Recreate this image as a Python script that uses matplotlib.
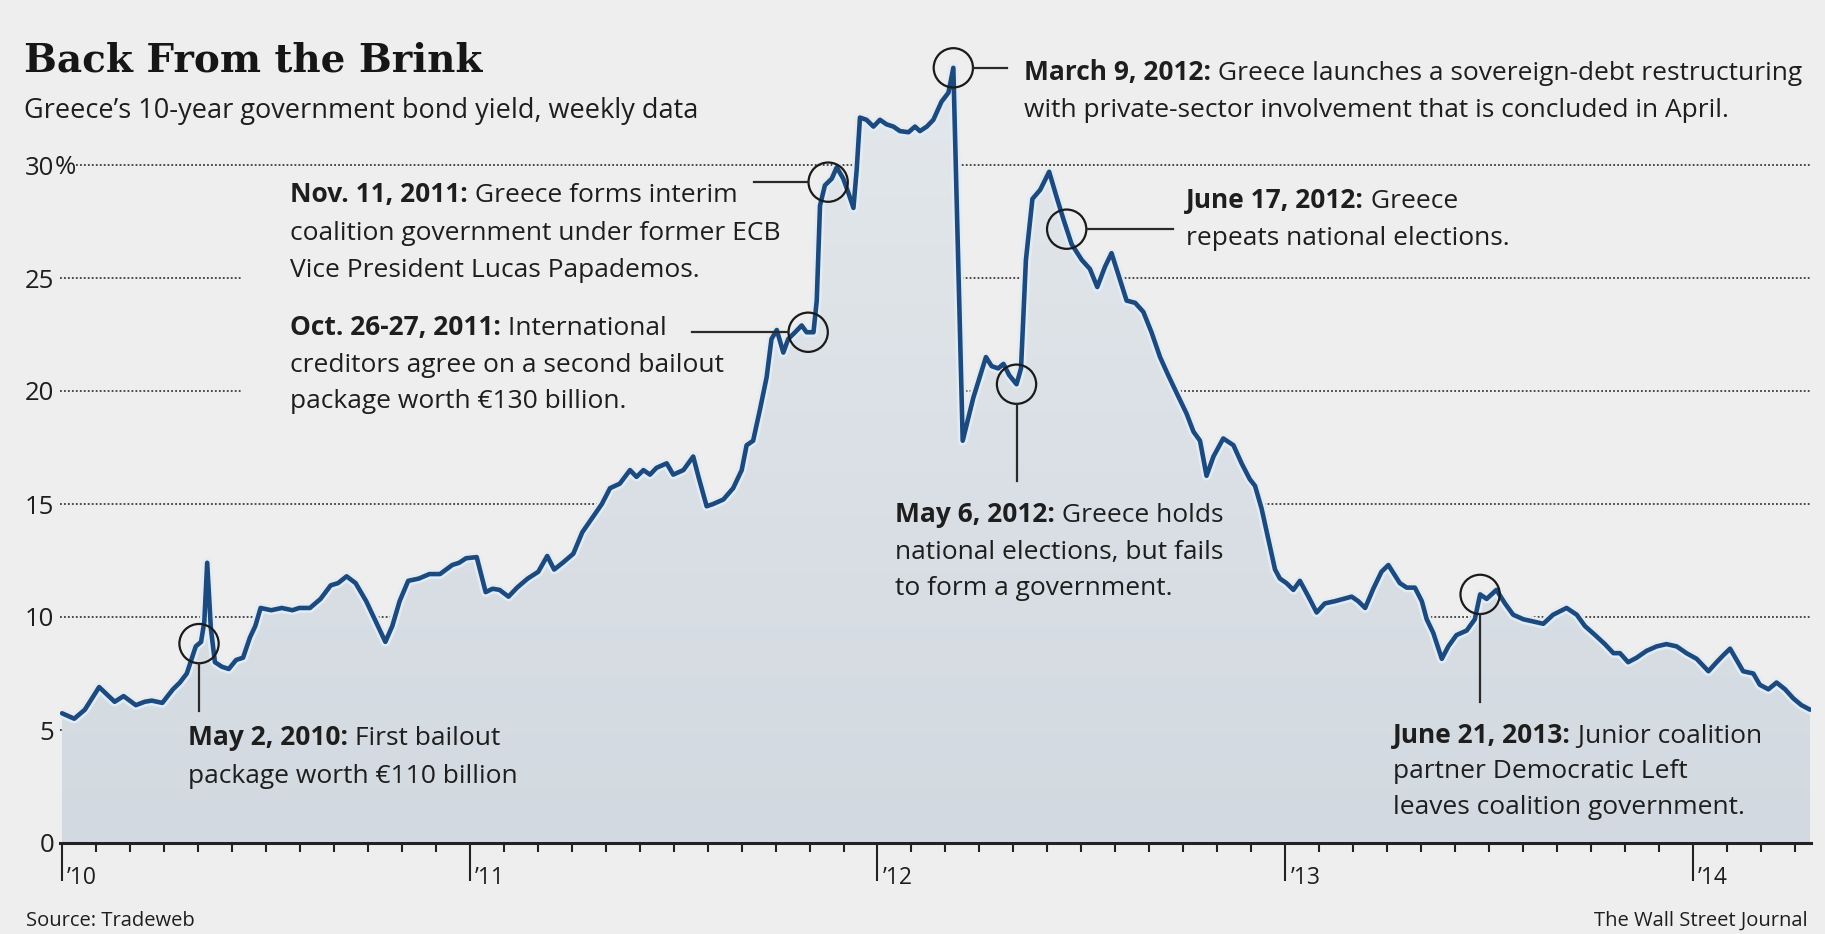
import numpy as np
import matplotlib
matplotlib.use("Agg")
import matplotlib.pyplot as plt
import matplotlib.patheffects as pe
from matplotlib.patches import Polygon, Rectangle
from matplotlib.lines import Line2D
from matplotlib.colors import LinearSegmentedColormap

# ---------------------------------------------------------------------------
# Greece's 10-year government bond yield, weekly (decimal year, percent)
# ---------------------------------------------------------------------------
years = [
    2010.000, 2010.030, 2010.056, 2010.091, 2010.129, 2010.151, 2010.181, 2010.203,
    2010.220, 2010.246, 2010.272, 2010.289, 2010.306, 2010.319, 2010.328, 2010.341,
    2010.349, 2010.356, 2010.365, 2010.375, 2010.392, 2010.409, 2010.427, 2010.444,
    2010.461, 2010.474, 2010.487, 2010.513, 2010.539, 2010.565, 2010.582, 2010.608,
    2010.634, 2010.659, 2010.677, 2010.698, 2010.720, 2010.746, 2010.767, 2010.793,
    2010.810, 2010.828, 2010.849, 2010.875, 2010.901, 2010.927, 2010.957, 2010.974,
    2010.991, 2011.017, 2011.039, 2011.056, 2011.073, 2011.095, 2011.116, 2011.142,
    2011.168, 2011.190, 2011.207, 2011.228, 2011.254, 2011.276, 2011.324, 2011.344,
    2011.368, 2011.393, 2011.409, 2011.426, 2011.442, 2011.458, 2011.483, 2011.499,
    2011.524, 2011.548, 2011.561, 2011.581, 2011.597, 2011.622, 2011.646, 2011.667,
    2011.679, 2011.695, 2011.712, 2011.728, 2011.740, 2011.753, 2011.769, 2011.781,
    2011.798, 2011.814, 2011.826, 2011.843, 2011.851, 2011.859, 2011.871, 2011.888,
    2011.900, 2011.916, 2011.928, 2011.941, 2011.949, 2011.957, 2011.973, 2011.990,
    2012.006, 2012.022, 2012.039, 2012.055, 2012.076, 2012.092, 2012.104, 2012.121,
    2012.137, 2012.157, 2012.174, 2012.186, 2012.209, 2012.235, 2012.266, 2012.280,
    2012.296, 2012.309, 2012.323, 2012.341, 2012.352, 2012.364, 2012.380, 2012.399,
    2012.421, 2012.439, 2012.456, 2012.476, 2012.501, 2012.521, 2012.539, 2012.558,
    2012.574, 2012.595, 2012.611, 2012.632, 2012.652, 2012.672, 2012.693, 2012.713,
    2012.734, 2012.758, 2012.775, 2012.791, 2012.807, 2012.824, 2012.848, 2012.873,
    2012.893, 2012.913, 2012.926, 2012.942, 2012.958, 2012.975, 2012.987, 2013.003,
    2013.020, 2013.036, 2013.057, 2013.077, 2013.097, 2013.122, 2013.142, 2013.163,
    2013.179, 2013.196, 2013.216, 2013.236, 2013.253, 2013.281, 2013.298, 2013.318,
    2013.335, 2013.347, 2013.363, 2013.384, 2013.400, 2013.420, 2013.445, 2013.465,
    2013.478, 2013.494, 2013.518, 2013.539, 2013.559, 2013.584, 2013.608, 2013.633,
    2013.657, 2013.690, 2013.715, 2013.735, 2013.760, 2013.784, 2013.805, 2013.821,
    2013.841, 2013.862, 2013.886, 2013.911, 2013.935, 2013.960, 2013.984, 2014.009,
    2014.038, 2014.058, 2014.074, 2014.091, 2014.107, 2014.123, 2014.148, 2014.164,
    2014.185, 2014.205, 2014.226, 2014.246, 2014.266, 2014.287,
]
yields = [
    5.74, 5.50, 5.90, 6.90, 6.25, 6.50, 6.10, 6.25,
    6.30, 6.20, 6.80, 7.10, 7.50, 8.20, 8.70, 8.90,
    9.80, 12.40, 9.50, 8.00, 7.80, 7.70, 8.10, 8.20,
    9.10, 9.60, 10.40, 10.30, 10.40, 10.30, 10.40, 10.40,
    10.80, 11.40, 11.50, 11.80, 11.50, 10.70, 9.90, 8.90,
    9.60, 10.70, 11.60, 11.70, 11.90, 11.90, 12.30, 12.40,
    12.60, 12.65, 11.10, 11.25, 11.20, 10.90, 11.30, 11.70,
    12.00, 12.70, 12.10, 12.40, 12.80, 13.75, 15.00, 15.70,
    15.90, 16.50, 16.20, 16.50, 16.30, 16.60, 16.80, 16.30,
    16.50, 17.10, 16.20, 14.90, 15.00, 15.20, 15.70, 16.50,
    17.60, 17.80, 19.20, 20.60, 22.30, 22.70, 21.70, 22.30,
    22.60, 22.90, 22.60, 22.60, 24.00, 28.20, 29.10, 29.40,
    29.90, 29.40, 28.80, 28.10, 29.80, 32.10, 32.00, 31.70,
    32.00, 31.80, 31.70, 31.50, 31.45, 31.70, 31.50, 31.70,
    32.00, 32.80, 33.20, 34.30, 17.80, 19.70, 21.50, 21.10,
    21.00, 21.20, 20.70, 20.30, 21.00, 25.80, 28.50, 28.90,
    29.70, 28.60, 27.60, 26.50, 25.80, 25.40, 24.60, 25.50,
    26.10, 24.90, 24.00, 23.90, 23.50, 22.60, 21.50, 20.70,
    19.90, 19.00, 18.20, 17.80, 16.25, 17.10, 17.90, 17.60,
    16.80, 16.10, 15.80, 14.80, 13.50, 12.10, 11.70, 11.50,
    11.20, 11.60, 10.90, 10.20, 10.60, 10.70, 10.80, 10.90,
    10.70, 10.40, 11.25, 12.00, 12.30, 11.50, 11.30, 11.30,
    10.70, 9.90, 9.30, 8.15, 8.70, 9.20, 9.40, 9.90,
    11.00, 10.80, 11.20, 10.60, 10.10, 9.90, 9.80, 9.70,
    10.10, 10.40, 10.10, 9.60, 9.20, 8.80, 8.40, 8.40,
    8.00, 8.20, 8.50, 8.70, 8.80, 8.70, 8.40, 8.15,
    7.60, 8.00, 8.30, 8.60, 8.10, 7.60, 7.50, 7.00,
    6.80, 7.10, 6.80, 6.40, 6.10, 5.90,
]

y_ticks = [0, 5, 10, 15, 20, 25, 30]
y_tick_labels = ["0", "5", "10", "15", "20", "25", "30"]
year_ticks = [2010, 2011, 2012, 2013, 2014]
year_labels = ["\u201910", "\u201911", "\u201912", "\u201913", "\u201914"]

# Dates of the marked events (decimal year)
event_dates = [2010.336, 2011.830, 2011.879, 2012.186, 2012.341, 2012.464, 2013.478]

# ---------------------------------------------------------------------------
# Styling
# ---------------------------------------------------------------------------
W, H = 1825, 934
BG = "#eeeeee"
INK = "#1e1e1e"
LINE = "#1d4a7e"
SANS = ["Open Sans", "DejaVu Sans"]
SERIF = ["DejaVu Serif"]
NOTE_SIZE = 19

fig = plt.figure(figsize=(W / 100, H / 100), dpi=100, facecolor=BG)
ax = fig.add_axes([60.4 / W, (H - 843) / H, 1750.8 / W, 813.6 / H])
ax.set_facecolor("none")
x0, x1 = 2009.996, 2014.290
y0, y1 = 0, 36

# Dotted gridlines (hidden behind the area fill)
for v in y_ticks[1:]:
    start = 2010.034 if v == 30 else x0
    ax.hlines(v, start, x1, colors="#3c3c3c", linestyles=(0, (1, 1.2)),
              linewidth=1.3, zorder=1)
# Clear band behind the left-hand note block
ax.add_patch(Rectangle((2010.439, 17.6), 1.45, 11.0, facecolor=BG,
                       edgecolor="none", zorder=1.5))

# Area under the curve with a soft vertical gradient
grad = np.linspace(0, 1, 256).reshape(-1, 1)
cmap = LinearSegmentedColormap.from_list("area", ["#d2d9e0", "#e4e8ec"])
im = ax.imshow(grad, extent=[x0, x1, y0, y1], origin="lower", cmap=cmap,
               aspect="auto", zorder=2, interpolation="bilinear")
verts = [(years[0], 0)] + list(zip(years, yields)) + [(years[-1], 0)]
area = Polygon(verts, closed=True, facecolor="none", edgecolor="none")
ax.add_patch(area)
im.set_clip_path(area)

# Yield line with a pale halo
ax.plot(years, yields, color=LINE, linewidth=3.3, zorder=4,
        solid_joinstyle="round", solid_capstyle="round",
        path_effects=[pe.Stroke(linewidth=7, foreground="#e3ecf5"), pe.Normal()])

ax.set_xlim(x0, x1)
ax.set_ylim(y0, y1)

# Axes decoration
for side in ("top", "right", "left"):
    ax.spines[side].set_visible(False)
ax.spines["bottom"].set_color("#222222")
ax.spines["bottom"].set_linewidth(2.2)
ax.spines["bottom"].set_zorder(6)

ax.set_yticks(y_ticks)
ax.set_yticklabels(y_tick_labels, fontsize=18.5, family=SANS, color=INK)
ax.tick_params(axis="y", length=0, pad=4.3)

ax.set_xticks(year_ticks)
ax.set_xticklabels([])
months = [y + m / 12 for y in range(2010, 2015) for m in range(1, 12)]
ax.set_xticks([m for m in months if m < x1], minor=True)
ax.tick_params(axis="x", which="major", length=27, width=1.5, color="#222222")
ax.tick_params(axis="x", which="minor", length=6.5, width=1.5, color="#222222")
for yr, lab in zip(year_ticks, year_labels):
    ax.annotate(lab, xy=(yr, 0), xycoords="data", xytext=(5, -41),
                textcoords="offset pixels", fontsize=16.5, family=SANS,
                color=INK, va="baseline", ha="left", annotation_clip=False)

fig.text(54.5 / W, 1 - 165 / H, "%", fontsize=18.5, family=SANS, color=INK,
         ha="left", va="center_baseline")

# Event markers
event_vals = np.interp(event_dates, years, yields)
ax.scatter(event_dates, event_vals, s=800, facecolors="none",
           edgecolors="#1a1a1a", linewidths=1.6, zorder=5)

# Leader lines, pixel offsets from each marker (x right, y down)
leaders = [
    ((0, 20), (0, 67)),
    ((-20, 0), (-116, 0)),
    ((-20, 0), (-74, 0)),
    ((20, 0), (54, 0)),
    ((0, 20), (0, 97)),
    ((20, 0), (106, 0)),
    ((0, 20), (0, 108)),
]
for (d, v), (a, b) in zip(zip(event_dates, event_vals), leaders):
    cx, cy = ax.transData.transform((d, v))
    xs = [(cx + a[0]) / W, (cx + b[0]) / W]
    ys = [(cy - a[1]) / H, (cy - b[1]) / H]
    fig.add_artist(Line2D(xs, ys, color="#2a2a2a", linewidth=1.6, zorder=6))

# Event notes: (left px, first baseline px, line gap px, lines)
notes = [
    (188, 745, 38, [("May 2, 2010:", " First bailout"),
                    ("", "package worth \u20ac110 billion")]),
    (290, 335, 36.5, [("Oct. 26-27, 2011:", " International"),
                      ("", "creditors agree on a second bailout"),
                      ("", "package worth \u20ac130 billion.")]),
    (290, 202, 37.5, [("Nov. 11, 2011:", " Greece forms interim"),
                      ("", "coalition government under former ECB"),
                      ("", "Vice President Lucas Papademos.")]),
    (1024, 80, 37, [("March 9, 2012:", " Greece launches a sovereign-debt restructuring"),
                    ("", "with private-sector involvement that is concluded in April.")]),
    (895, 522, 36.5, [("May 6, 2012:", " Greece holds"),
                      ("", "national elections, but fails"),
                      ("", "to form a government.")]),
    (1186, 208, 37, [("June 17, 2012:", " Greece"),
                     ("", "repeats national elections.")]),
    (1393, 743, 35.5, [("June 21, 2013:", " Junior coalition"),
                       ("", "partner Democratic Left"),
                       ("", "leaves coalition government.")]),
]

renderer = fig.canvas.get_renderer()


def rich_line(x, y, bold, regular, size):
    for s, weight in ((bold, "bold"), (regular, "normal")):
        if not s:
            continue
        t = fig.text(x / W, 1 - y / H, s, fontsize=size, fontweight=weight,
                     family=SANS, color=INK, va="baseline", ha="left", zorder=7)
        x += t.get_window_extent(renderer).width


for left, base, gap, lines in notes:
    for i, (bold, regular) in enumerate(lines):
        rich_line(left, base + i * gap, bold, regular, NOTE_SIZE)

# Titles and credits
fig.text(24 / W, 1 - 72 / H, "Back From the Brink", family=SERIF,
         fontweight="bold", fontsize=28, color="#161616", va="baseline")
fig.text(24 / W, 1 - 118 / H, "Greece\u2019s 10-year government bond yield, weekly data",
         family=SANS, fontsize=19.5, color=INK, va="baseline")
fig.text(26 / W, 1 - 926 / H, "Source: Tradeweb", family=SANS, fontsize=14.5,
         color=INK, va="baseline")
fig.text(1808 / W, 1 - 926 / H, "The Wall Street Journal", family=SANS,
         fontsize=14.5, color=INK, va="baseline", ha="right")

fig.savefig("out.png", dpi=100, facecolor=BG)
